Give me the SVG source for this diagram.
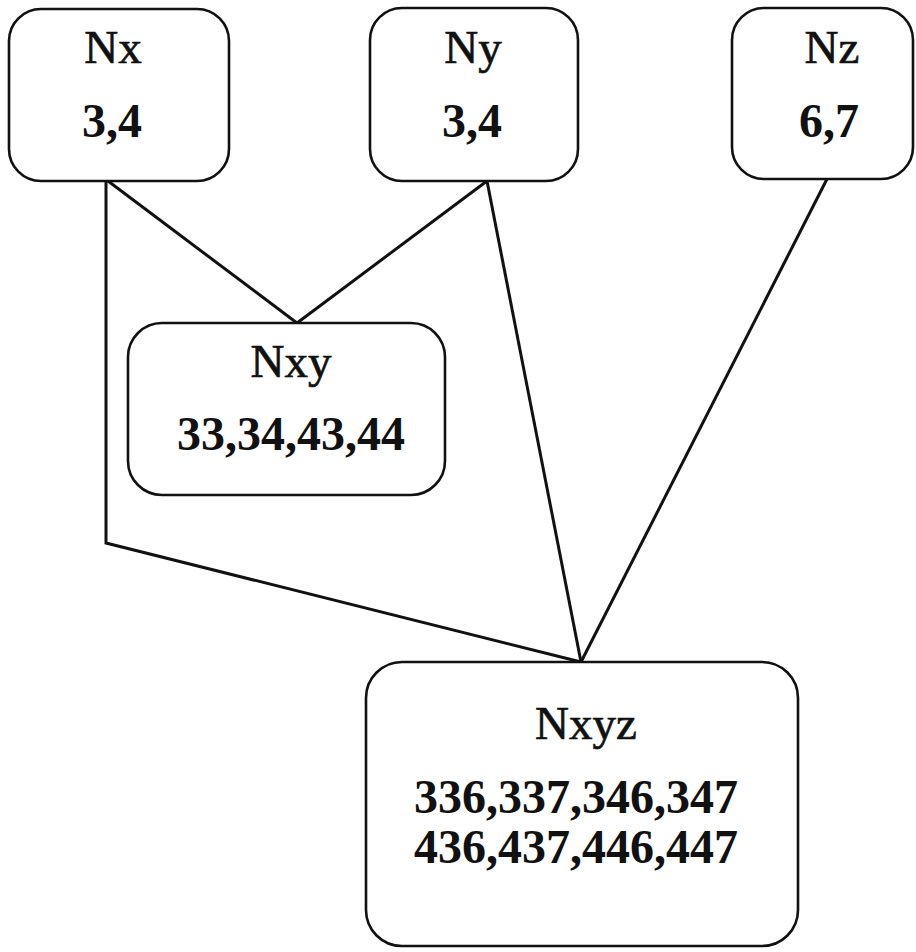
<svg xmlns="http://www.w3.org/2000/svg" width="916" height="952" viewBox="0 0 916 952">
<style>
.box{fill:#fff;stroke:#111;stroke-width:2.6}
.ln{fill:none;stroke:#111;stroke-width:3;stroke-linejoin:miter}
.nm{font-family:"Liberation Serif","Times New Roman",serif;font-size:47px;fill:#111;stroke:#111;stroke-width:0.7;text-anchor:middle}
.num{font-family:"Liberation Serif","Times New Roman",serif;font-size:48px;font-weight:bold;fill:#111;text-anchor:middle}
</style>
<rect width="916" height="952" fill="#fff"/>
<g id="connectors">
<polyline class="ln" points="106,181 106,543 581,662"/>
<line class="ln" x1="108" y1="181" x2="297" y2="323"/>
<line class="ln" x1="487" y1="181" x2="297" y2="323"/>
<line class="ln" x1="487" y1="181" x2="581" y2="662"/>
<line class="ln" x1="827" y1="179" x2="581" y2="662"/>
</g>
<g id="Nx">
<rect class="box" x="9" y="9" width="220" height="172" rx="32"/>
<text class="nm" x="113" y="63">Nx</text>
<text class="num" x="112" y="137">3,4</text>
</g>
<g id="Ny">
<rect class="box" x="370" y="8" width="208" height="173" rx="32"/>
<text class="nm" x="473" y="63">Ny</text>
<text class="num" x="472" y="137">3,4</text>
</g>
<g id="Nz">
<rect class="box" x="732" y="8" width="181" height="171" rx="32"/>
<text class="nm" x="832" y="63">Nz</text>
<text class="num" x="829" y="137">6,7</text>
</g>
<g id="Nxy">
<rect class="box" x="128" y="323" width="317" height="172" rx="34"/>
<text class="nm" x="291" y="377">Nxy</text>
<text class="num" x="291" y="450">33,34,43,44</text>
</g>
<g id="Nxyz">
<rect class="box" x="366" y="662" width="432" height="284" rx="36"/>
<text class="nm" x="586" y="739">Nxyz</text>
<text class="num" x="576" y="813">336,337,346,347</text>
<text class="num" x="576" y="863">436,437,446,447</text>
</g>
</svg>
